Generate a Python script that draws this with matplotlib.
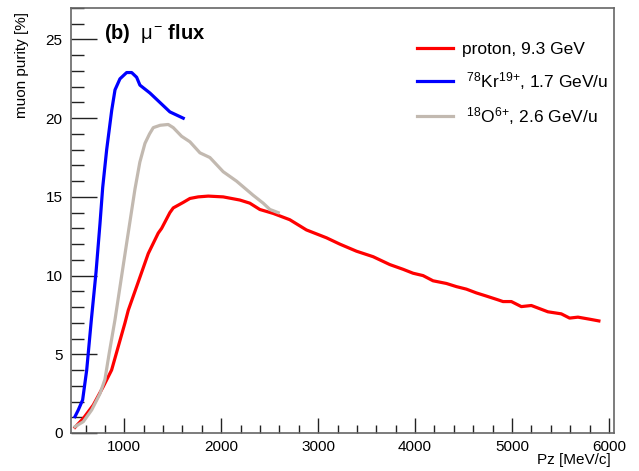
"""
Muon purity vs longitudinal momentum for mu- flux, three beam species.
"""

import numpy as np
import matplotlib
matplotlib.use("Agg")
import matplotlib.pyplot as plt
from matplotlib.ticker import MultipleLocator

plt.rcParams["font.family"] = ["Liberation Sans", "DejaVu Sans"]
plt.rcParams["mathtext.fontset"] = "custom"
plt.rcParams["mathtext.rm"] = "Liberation Sans"
plt.rcParams["mathtext.it"] = "Liberation Sans"
plt.rcParams["mathtext.bf"] = "Liberation Sans:bold"

# proton, 9.3 GeV
pz_proton = [491, 577, 680, 783, 869, 938, 1007, 1041, 1127, 1247, 1350, 1385,
             1470, 1505, 1608, 1677, 1762, 1866, 2020, 2192, 2295, 2398, 2536,
             2707, 2879, 3086, 3223, 3395, 3567, 3739, 3876, 3979, 4082, 4185,
             4323, 4426, 4529, 4632, 4735, 4855, 4907, 4993, 5096, 5199, 5370,
             5508, 5594, 5680, 5800, 5896]
purity_proton = [0.36, 0.93, 1.78, 2.95, 4.0, 5.5, 7.0, 7.8, 9.3, 11.4, 12.7, 13.0,
                 14.0, 14.3, 14.65, 14.9, 15.0, 15.05, 15.0, 14.8, 14.6, 14.2, 13.95,
                 13.55, 12.9, 12.4, 12.0, 11.55, 11.2, 10.7, 10.4, 10.15, 10.0, 9.67,
                 9.5, 9.3, 9.14, 8.9, 8.7, 8.46, 8.35, 8.35, 8.03, 8.1, 7.7,
                 7.57, 7.3, 7.36, 7.23, 7.12]

# 78Kr19+, 1.7 GeV/u
pz_kr = [491, 525, 570, 612, 660, 708, 749, 777, 818, 870, 904, 955, 1024, 1076,
         1127, 1161, 1264, 1367, 1470, 1608]
purity_kr = [1.04, 1.46, 2.1, 4.0, 7.2, 10.2, 13.3, 15.6, 18.0, 20.5, 21.8, 22.5,
             22.9, 22.9, 22.6, 22.1, 21.6, 21.0, 20.4, 20.0]

# 18O6+, 2.6 GeV/u
pz_o = [491, 577, 663, 749, 800, 845, 904, 973, 1030, 1110, 1160, 1213, 1260,
        1299, 1370, 1453, 1505, 1591, 1677, 1780, 1883, 2020, 2158, 2330, 2433,
        2502, 2588]
purity_o = [0.4, 0.72, 1.46, 2.5, 3.4, 5.1, 7.2, 10.0, 12.3, 15.5, 17.2, 18.4, 19.0,
            19.4, 19.55, 19.6, 19.4, 18.85, 18.5, 17.8, 17.5, 16.6, 16.0, 15.1, 14.6,
            14.2, 14.0]

fig = plt.figure(figsize=(6.39, 4.71), dpi=100)
ax = fig.add_axes([71 / 639, 1 - 433 / 471, 543 / 639, 425 / 471])

lw = 2.3
ax.plot(pz_proton, purity_proton, color="#ff0000", lw=lw, label="proton, 9.3 GeV")
ax.plot(pz_kr, purity_kr, color="#0000ff", lw=lw,
        label=r" $^{78}$Kr$^{19{+}}$, 1.7 GeV/u")
ax.plot(pz_o, purity_o, color="#c2b9b0", lw=lw,
        label=r" $^{18}$O$^{6{+}}$, 2.6 GeV/u")

ax.set_xlim(450, 6052)
ax.set_ylim(0, 27.0)

ax.xaxis.set_major_locator(MultipleLocator(1000))
ax.xaxis.set_minor_locator(MultipleLocator(200))
ax.yaxis.set_major_locator(MultipleLocator(5))
ax.yaxis.set_minor_locator(MultipleLocator(1))
ax.tick_params(axis="x", which="major", direction="in", length=11, width=1,
               color="#222222", labelsize=11, pad=5)
ax.tick_params(axis="x", which="minor", direction="in", length=6, width=1,
               color="#222222")
ax.tick_params(axis="y", which="major", direction="in", length=19, width=1,
               color="#222222", labelsize=11, pad=6)
ax.tick_params(axis="y", which="minor", direction="in", length=9, width=1,
               color="#222222")
for sp in ax.spines.values():
    sp.set_color("#666666")
    sp.set_linewidth(1.2)

fig.text(22 / 639, 1 - 12 / 471, "muon purity [%]", rotation=90,
         ha="center", va="top", fontsize=11)
fig.text(611 / 639, 1 - 453 / 471, "Pz [MeV/c]", ha="right", va="top",
         fontsize=11)

ax.text(0.061, 0.941, r"(b)  $\mu^{-}$ flux", transform=ax.transAxes,
        fontsize=14.5, fontweight="bold", ha="left", va="center")

leg = ax.legend(loc="upper left", bbox_to_anchor=(417 / 639, 1 - 42 / 471),
                bbox_transform=fig.transFigure, frameon=False, fontsize=12.5,
                handlelength=2.1, handletextpad=0.5, labelspacing=0.75,
                borderpad=0, borderaxespad=0)

fig.savefig("out.png", dpi=100)
plt.close(fig)
